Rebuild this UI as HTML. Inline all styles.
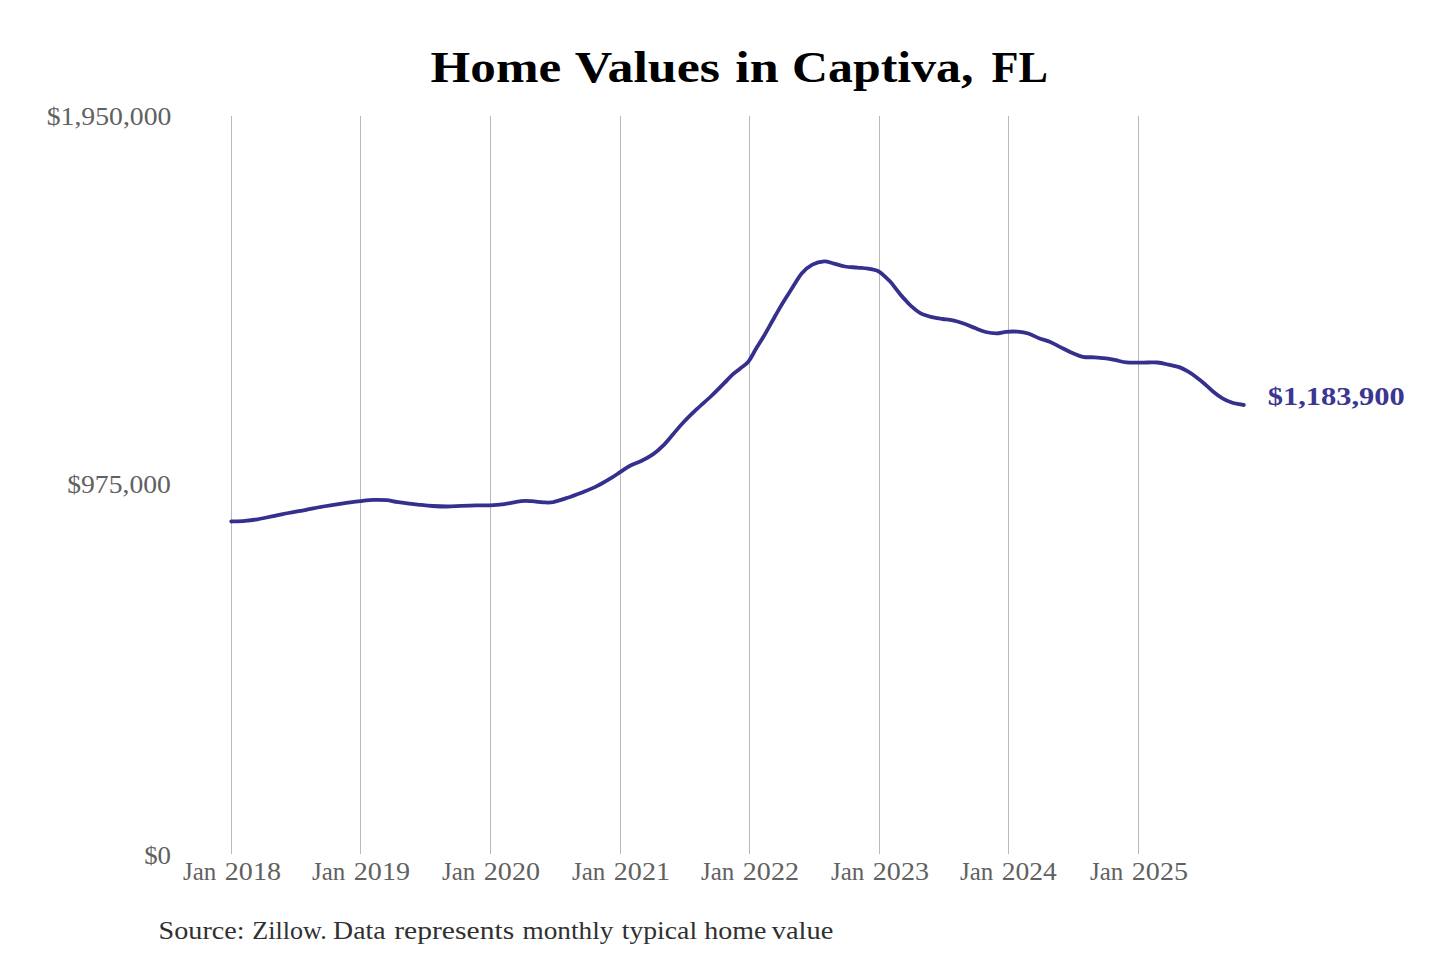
<!DOCTYPE html>
<html><head><meta charset="utf-8"><title>Home Values in Captiva, FL</title>
<style>
html,body{margin:0;padding:0;background:#fff;}
body{width:1440px;height:960px;overflow:hidden;}
svg{display:block;}
text{font-family:"Liberation Serif", serif;}
</style></head><body>
<svg width="1440" height="960" viewBox="0 0 1440 960">
<rect width="1440" height="960" fill="#fff"/>
<g font-size="43.5" font-weight="bold" fill="#000">
<text x="430.60" y="81.7" textLength="130.54" lengthAdjust="spacingAndGlyphs">Home</text>
<text x="574.70" y="81.7" textLength="145.32" lengthAdjust="spacingAndGlyphs">Values</text>
<text x="735.30" y="81.7" textLength="43.43" lengthAdjust="spacingAndGlyphs">in</text>
<text x="792.11" y="81.7" textLength="181.40" lengthAdjust="spacingAndGlyphs">Captiva,</text>
<text x="991.50" y="81.7" textLength="56.52" lengthAdjust="spacingAndGlyphs">FL</text>
</g>
<g stroke="#b9b9b9" stroke-width="1" fill="none">
<line x1="231.5" y1="116" x2="231.5" y2="854"/>
<line x1="360.5" y1="116" x2="360.5" y2="854"/>
<line x1="490.5" y1="116" x2="490.5" y2="854"/>
<line x1="620.5" y1="116" x2="620.5" y2="854"/>
<line x1="749.5" y1="116" x2="749.5" y2="854"/>
<line x1="879.5" y1="116" x2="879.5" y2="854"/>
<line x1="1008.5" y1="116" x2="1008.5" y2="854"/>
<line x1="1138.5" y1="116" x2="1138.5" y2="854"/>
</g>
<g font-size="26" fill="#616161">
<text x="46.73" y="124.8" textLength="124.63" lengthAdjust="spacingAndGlyphs">$1,950,000</text>
<text x="67.24" y="493.1" textLength="103.59" lengthAdjust="spacingAndGlyphs">$975,000</text>
<text x="144.17" y="864.3" textLength="26.87" lengthAdjust="spacingAndGlyphs">$0</text>
</g>
<g font-size="25.5" fill="#616161">
<text x="183.00" y="880" textLength="33.30" lengthAdjust="spacingAndGlyphs">Jan</text>
<text x="224.80" y="880" textLength="56.20" lengthAdjust="spacingAndGlyphs">2018</text>
<text x="312.00" y="880" textLength="33.30" lengthAdjust="spacingAndGlyphs">Jan</text>
<text x="353.80" y="880" textLength="56.20" lengthAdjust="spacingAndGlyphs">2019</text>
<text x="442.00" y="880" textLength="33.30" lengthAdjust="spacingAndGlyphs">Jan</text>
<text x="483.80" y="880" textLength="56.20" lengthAdjust="spacingAndGlyphs">2020</text>
<text x="572.00" y="880" textLength="33.30" lengthAdjust="spacingAndGlyphs">Jan</text>
<text x="613.80" y="880" textLength="56.20" lengthAdjust="spacingAndGlyphs">2021</text>
<text x="701.00" y="880" textLength="33.30" lengthAdjust="spacingAndGlyphs">Jan</text>
<text x="742.80" y="880" textLength="56.20" lengthAdjust="spacingAndGlyphs">2022</text>
<text x="831.00" y="880" textLength="33.30" lengthAdjust="spacingAndGlyphs">Jan</text>
<text x="872.80" y="880" textLength="56.20" lengthAdjust="spacingAndGlyphs">2023</text>
<text x="960.00" y="880" textLength="33.30" lengthAdjust="spacingAndGlyphs">Jan</text>
<text x="1001.82" y="880" textLength="55.08" lengthAdjust="spacingAndGlyphs">2024</text>
<text x="1090.00" y="880" textLength="33.30" lengthAdjust="spacingAndGlyphs">Jan</text>
<text x="1131.80" y="880" textLength="56.20" lengthAdjust="spacingAndGlyphs">2025</text>
</g>
<path d="M231.2,521.5 C233.5,521.4 240.6,521.2 245.0,520.8 C249.4,520.4 252.4,520.1 257.4,519.3 C262.3,518.5 269.5,516.8 274.7,515.8 C279.9,514.8 283.4,514.0 288.6,513.0 C293.8,512.0 300.2,511.0 306.0,509.9 C311.8,508.8 317.6,507.5 323.3,506.5 C329.0,505.5 335.2,504.5 340.0,503.8 C344.8,503.1 348.6,502.6 352.0,502.2 C355.4,501.8 356.7,501.5 360.4,501.1 C364.1,500.7 369.6,500.0 374.0,499.9 C378.4,499.8 382.6,499.8 386.7,500.2 C390.8,500.6 393.1,501.5 398.3,502.2 C403.5,502.9 412.1,504.0 417.8,504.6 C423.5,505.2 427.5,505.7 432.4,506.0 C437.3,506.3 442.1,506.5 447.0,506.5 C451.9,506.5 456.7,506.0 461.5,505.8 C466.3,505.6 471.2,505.4 476.0,505.3 C480.8,505.2 485.3,505.6 490.0,505.4 C494.7,505.2 499.2,504.8 504.4,504.1 C509.6,503.4 516.5,501.7 521.0,501.2 C525.5,500.7 528.0,501.0 531.7,501.2 C535.4,501.4 539.8,502.1 543.3,502.3 C546.8,502.5 549.0,502.9 553.0,502.2 C557.0,501.4 562.7,499.4 567.6,497.8 C572.5,496.2 577.3,494.3 582.2,492.4 C587.1,490.4 591.9,488.5 596.8,486.1 C601.7,483.7 607.5,480.1 611.4,477.8 C615.3,475.5 617.0,474.2 620.0,472.2 C623.0,470.2 626.1,467.9 629.6,466.0 C633.1,464.1 637.3,462.9 641.2,461.0 C645.1,459.1 649.2,457.0 652.9,454.4 C656.5,451.8 659.7,449.0 663.1,445.6 C666.5,442.2 669.9,437.9 673.3,434.0 C676.7,430.1 679.6,426.4 683.5,422.3 C687.4,418.2 692.1,413.6 696.7,409.2 C701.3,404.8 706.7,400.4 711.3,396.0 C715.9,391.6 720.9,386.5 724.4,382.9 C727.9,379.3 729.8,377.1 732.5,374.6 C735.2,372.2 737.9,370.4 740.5,368.2 C743.1,366.0 745.7,364.9 748.3,361.7 C750.9,358.5 753.4,353.2 756.0,348.8 C758.6,344.4 761.0,340.9 764.2,335.5 C767.4,330.1 771.7,322.0 775.0,316.2 C778.3,310.5 780.8,306.0 783.8,301.2 C786.7,296.5 789.5,292.2 792.5,287.5 C795.5,282.8 798.6,277.0 801.9,273.2 C805.2,269.4 808.7,266.7 812.4,264.7 C816.1,262.7 820.7,261.6 824.2,261.4 C827.7,261.2 829.7,262.5 833.2,263.4 C836.7,264.2 841.0,265.8 845.0,266.5 C849.0,267.2 853.7,267.2 857.5,267.6 C861.3,268.0 864.5,268.1 868.0,268.7 C871.5,269.3 875.4,269.8 878.3,271.2 C881.2,272.6 883.3,275.0 885.3,276.8 C887.3,278.6 888.7,279.9 890.4,281.8 C892.1,283.7 893.9,286.2 895.6,288.4 C897.3,290.6 899.1,292.9 900.8,295.0 C902.5,297.1 904.3,298.9 906.0,300.8 C907.7,302.7 908.9,304.1 911.2,306.1 C913.6,308.2 916.8,311.2 920.3,313.1 C923.8,315.0 928.4,316.2 932.1,317.2 C935.8,318.2 939.0,318.5 942.5,319.0 C946.0,319.5 949.2,319.5 952.9,320.3 C956.5,321.1 960.7,322.4 964.4,323.7 C968.1,325.0 971.5,326.7 975.1,328.1 C978.7,329.5 982.2,331.1 985.8,332.0 C989.4,332.9 993.1,333.4 996.5,333.4 C999.9,333.4 1002.7,332.1 1006.2,331.8 C1009.7,331.5 1013.9,331.4 1017.6,331.7 C1021.3,332.0 1024.7,332.4 1028.3,333.5 C1031.9,334.6 1035.4,336.9 1039.0,338.3 C1042.6,339.7 1046.1,340.2 1049.7,341.7 C1053.3,343.2 1056.8,345.3 1060.4,347.1 C1064.0,348.9 1067.4,350.8 1071.1,352.4 C1074.8,354.0 1078.9,356.0 1082.8,356.8 C1086.7,357.6 1090.5,357.1 1094.4,357.3 C1098.3,357.6 1102.5,357.8 1106.1,358.3 C1109.7,358.8 1112.4,359.5 1115.8,360.2 C1119.2,360.9 1122.8,362.0 1126.5,362.4 C1130.2,362.8 1134.7,362.6 1138.2,362.6 C1141.7,362.6 1144.3,362.5 1147.5,362.5 C1150.7,362.5 1154.0,362.1 1157.5,362.5 C1161.0,362.9 1164.7,363.8 1168.3,364.6 C1171.9,365.4 1175.9,365.9 1179.2,367.1 C1182.5,368.3 1185.4,370.0 1188.3,371.7 C1191.2,373.4 1193.9,375.4 1196.7,377.5 C1199.5,379.6 1202.2,381.8 1205.0,384.2 C1207.8,386.6 1210.4,389.3 1213.3,391.7 C1216.2,394.1 1219.4,396.5 1222.5,398.3 C1225.6,400.1 1228.9,401.5 1231.7,402.5 C1234.5,403.5 1237.2,403.8 1239.2,404.2 C1241.2,404.6 1243.0,404.9 1243.8,405.0" fill="none" stroke="#35308e" stroke-width="3.8" stroke-linecap="round" stroke-linejoin="round"/>
<g font-size="25" font-weight="bold" fill="#3b3691">
<text x="1267.68" y="404.5" textLength="137.13" lengthAdjust="spacingAndGlyphs">$1,183,900</text>
</g>
<g font-size="26" fill="#303030">
<text x="158.62" y="938.6" textLength="85.92" lengthAdjust="spacingAndGlyphs">Source:</text>
<text x="252.30" y="938.6" textLength="74.35" lengthAdjust="spacingAndGlyphs">Zillow.</text>
<text x="333.13" y="938.6" textLength="52.47" lengthAdjust="spacingAndGlyphs">Data</text>
<text x="394.20" y="938.6" textLength="120.06" lengthAdjust="spacingAndGlyphs">represents</text>
<text x="522.50" y="938.6" textLength="90.96" lengthAdjust="spacingAndGlyphs">monthly</text>
<text x="621.70" y="938.6" textLength="75.42" lengthAdjust="spacingAndGlyphs">typical</text>
<text x="704.20" y="938.6" textLength="62.12" lengthAdjust="spacingAndGlyphs">home</text>
<text x="771.70" y="938.6" textLength="61.64" lengthAdjust="spacingAndGlyphs">value</text>
</g>
</svg>
</body></html>
